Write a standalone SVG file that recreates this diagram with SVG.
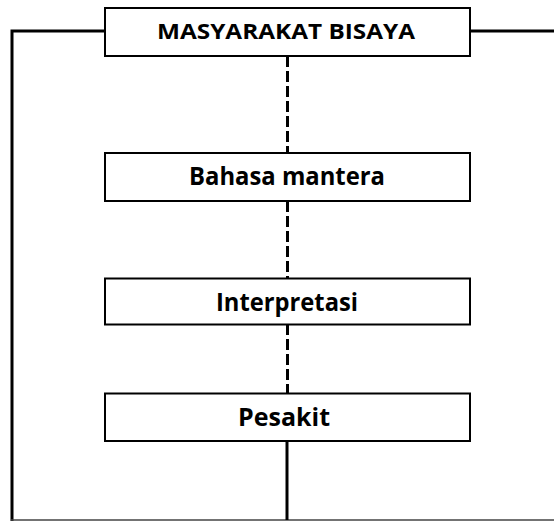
<svg xmlns="http://www.w3.org/2000/svg" width="554" height="521" viewBox="0 0 554 521">
<style>
.box{fill:#fff;stroke:#000;stroke-width:2}
.lbl{font-family:"Open Sans","Liberation Sans",Arial,sans-serif;font-weight:bold;font-size:25px;fill:#000;text-anchor:middle}
.top{font-size:22px}
.solid{fill:none;stroke:#000;stroke-width:3}
.dash{fill:none;stroke:#000;stroke-width:3;stroke-dasharray:11 4}
</style>
<rect width="554" height="521" fill="#fff"/>
<g id="connectors">
<polyline class="solid" points="105,31 12,31 12,521"/>
<line class="solid" x1="470" y1="31" x2="554" y2="31"/>
<line x1="11" y1="520" x2="554" y2="520" stroke="#444" stroke-width="1.5"/>
<line class="solid" x1="287" y1="441" x2="287" y2="520"/>
<line class="dash" x1="287.5" y1="56" x2="287.5" y2="153"/>
<line class="dash" x1="287.5" y1="201" x2="287.5" y2="278"/>
<line class="dash" x1="287.5" y1="324" x2="287.5" y2="393"/>
</g>
<g id="masyarakat">
<rect class="box" x="105" y="8" width="365" height="48"/>
<text class="lbl top" x="286" y="38.5" textLength="258" lengthAdjust="spacingAndGlyphs">MASYARAKAT BISAYA</text>
</g>
<g id="bahasa">
<rect class="box" x="105" y="153" width="365" height="48"/>
<text class="lbl" x="287" y="185" textLength="196" lengthAdjust="spacingAndGlyphs">Bahasa mantera</text>
</g>
<g id="interpretasi">
<rect class="box" x="105" y="278.5" width="365" height="46"/>
<text class="lbl" x="287" y="310.5" textLength="142" lengthAdjust="spacingAndGlyphs">Interpretasi</text>
</g>
<g id="pesakit">
<rect class="box" x="105" y="393.5" width="365" height="47.5"/>
<text class="lbl" x="284" y="425.5" textLength="92" lengthAdjust="spacingAndGlyphs">Pesakit</text>
</g>
</svg>
